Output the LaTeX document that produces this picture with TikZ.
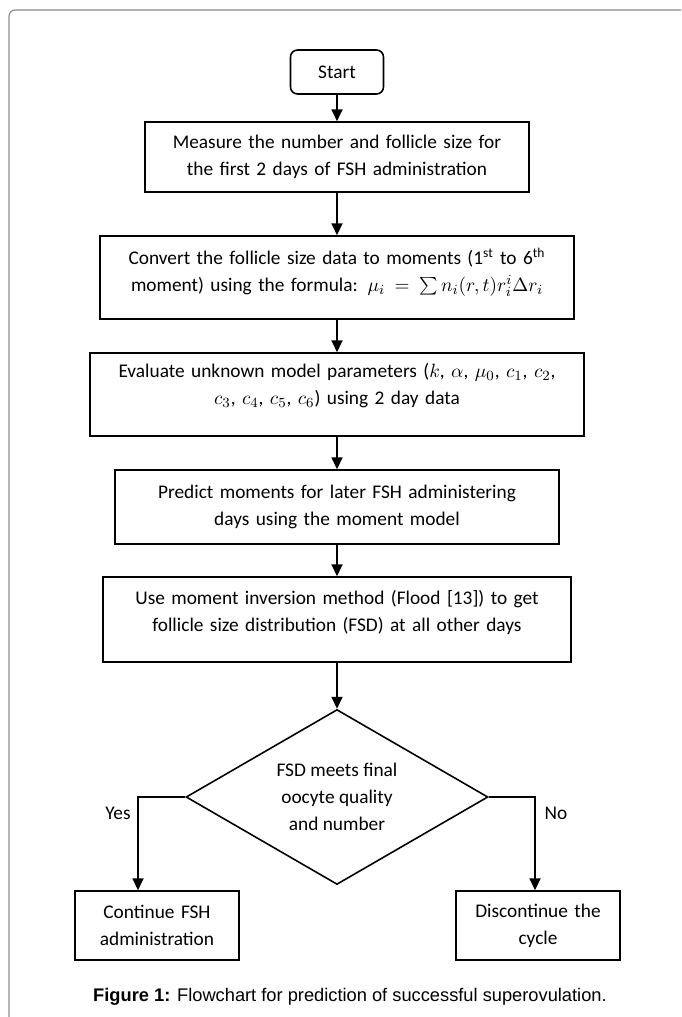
\documentclass[tikz,border=0pt]{standalone}
\usepackage{fontspec}
\setmainfont{Carlito}
\newfontfamily\capfont{Liberation Sans}
\usetikzlibrary{arrows.meta, positioning, shapes.geometric}
\definecolor{framegray}{RGB}{140,140,140}
\tikzset{
  box/.style      = {draw, line width=0.9pt, align=center, inner xsep=0pt, inner ysep=2pt},
  term/.style     = {draw, line width=0.9pt, rounded corners=4pt, minimum width=1.86cm, minimum height=0.88cm},
  decision/.style = {diamond, draw, line width=0.9pt, aspect=1.73, minimum width=6.04cm,
                     minimum height=3.5cm, inner sep=0pt, align=center},
  arrow/.style    = {-{Triangle[length=6.8pt, width=6.3pt]}, line width=0.9pt},
  frame/.style    = {draw=framegray, line width=0.7pt, rounded corners=3.5pt},
}
\begin{document}
\begin{tikzpicture}[x=0.02cm, y=-0.02cm, every node/.style={font=\fontsize{11}{15.2}\selectfont}]
  \useasboundingbox (0,0) rectangle (681,1017);
  \draw[frame] (9,1017) -- (9,10) -- (681,10);

  % steps
  \node[term] (start) at (337,72) {Start};
  \node[box, text width=7.68cm, minimum height=1.4cm] (b1) at (337,157)
    {Measure the number and follicle size for\\the first 2 days of FSH administration};
  \node[box, text width=9.48cm, minimum height=1.66cm, text depth=24pt] (b2) at (337,277.5)
    {Convert the follicle size data to moments (1\textsuperscript{st} to 6\textsuperscript{th}\\
     moment) using the formula: $\mu_i=\sum n_i(r,t)r_i^i\Delta r_i$};
  \node[box, text width=9.88cm, minimum height=1.66cm, text depth=27pt] (b3) at (337,394.5)
    {Evaluate unknown model parameters ($k$, $\alpha$, $\mu_0$, $c_1$, $c_2$,\\
     $c_3$, $c_4$, $c_5$, $c_6$) using 2 day data};
  \node[box, text width=8.88cm, minimum height=1.48cm] (b4) at (337,507)
    {Predict moments for later FSH administering\\days using the moment model};
  \node[box, text width=9.36cm, minimum height=1.7cm, text depth=25pt] (b5) at (337,619.5)
    {Use moment inversion method (Flood [13]) to get\\follicle size distribution (FSD) at all other days};

  % decision and outcomes
  \node[decision] (dec) at (337,797) {FSD meets final\\oocyte quality\\and number};
  \node[box, text width=3.28cm, minimum height=1.38cm] (cont) at (157,925.5) {Continue FSH\\administration};
  \node[box, text width=3.28cm, minimum height=1.38cm] (stop) at (538,925.5) {Discontinue the\\cycle};
  \node (yes) at (118,813) {Yes};
  \node (no) at (556,813) {No};

  % arrows
  \draw[arrow] (start) -- (b1);
  \draw[arrow] (b1) -- (b2);
  \draw[arrow] (b2) -- (b3);
  \draw[arrow] (b3) -- (b4);
  \draw[arrow] (b4) -- (b5);
  \draw[arrow] (b5) -- (dec);
  \draw[arrow] (dec.west) -| ([xshift=-0.38cm]cont.north);
  \draw[arrow] (dec.east) -| ([xshift=-0.06cm]stop.north);

  \node[anchor=base west, font=\capfont\fontsize{10.4}{12}\selectfont] (cap) at (87,1001)
    {\textbf{Figure 1:} Flowchart for prediction of successful superovulation.};
\end{tikzpicture}
\end{document}
